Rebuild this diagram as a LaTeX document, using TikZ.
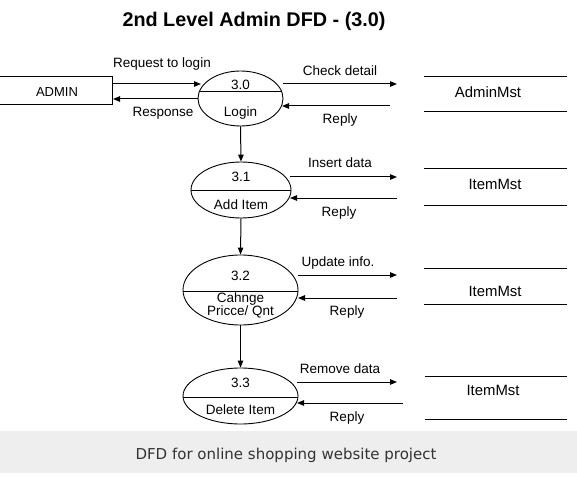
\documentclass[tikz,border=0pt]{standalone}
\usepackage{fontspec}
\setmainfont{Liberation Sans}
\newfontfamily\capfont{DejaVu Sans}
\usetikzlibrary{arrows.meta,shapes.geometric}
\tikzset{
  lbl/.style={inner sep=0pt, font=\fontsize{13.5}{14}\selectfont, text=black},
  storelbl/.style={inner sep=0pt, font=\fontsize{14.9}{16}\selectfont, text=black},
  flow/.style={line width=1pt, -{Triangle[length=7pt,width=5.5pt]}},
  plain/.style={line width=1pt},
  proc/.style={ellipse, draw, line width=0.9pt, inner sep=0pt},
}
\begin{document}
\begin{tikzpicture}[x=1pt,y=-1pt]
\useasboundingbox (0,0) rectangle (577,478);
% caption band
\fill[color={rgb,255:red,238;green,238;blue,238}] (0,431) rectangle (577,473);
\node[inner sep=0pt, text={rgb,255:red,51;green,51;blue,51}, font=\capfont\fontsize{15}{16}\selectfont] (cap) at (286,455) {DFD for online shopping website project};
% title
\node[inner sep=0pt, font=\bfseries\fontsize{19.8}{21}\selectfont] (title) at (254,21) {2nd Level Admin DFD - (3.0)};

% external entity
\node[draw, plain, minimum width=114pt, minimum height=28pt, inner sep=0pt] (admin) at (55,91) {};
\node[lbl, font=\fontsize{13}{14}\selectfont] (admint) at (57,92) {ADMIN};

% processes
\node[proc, minimum width=85pt, minimum height=55pt,
  path picture={\draw[plain] ([yshift=6.5pt]path picture bounding box.west) -- ([yshift=6.5pt]path picture bounding box.east);}] (p0) at (240.5,98.5) {};
\node[lbl] (p0n) at (240.5,84.5) {3.0};
\node[lbl] (p0t) at (240.5,113) {Login};

\node[proc, minimum width=100pt, minimum height=56pt,
  path picture={\draw[plain] ([yshift=-1pt]path picture bounding box.west) -- ([yshift=-1pt]path picture bounding box.east);}] (p1) at (241,190) {};
\node[lbl] (p1n) at (241,177) {3.1};
\node[lbl] (p1t) at (241,205) {Add Item};

\node[proc, minimum width=115pt, minimum height=70pt,
  path picture={\draw[plain] ([yshift=-1pt]path picture bounding box.west) -- ([yshift=-1pt]path picture bounding box.east);}] (p2) at (240.5,290) {};
\node[lbl] (p2n) at (240.5,276) {3.2};
\node[lbl, align=center, font=\fontsize{13.5}{13}\selectfont] (p2t) at (240.5,305) {Cahnge\\Pricce/ Qnt};

\node[proc, minimum width=115pt, minimum height=56pt,
  path picture={\draw[plain] ([yshift=-1pt]path picture bounding box.west) -- ([yshift=-1pt]path picture bounding box.east);}] (p3) at (240.5,396) {};
\node[lbl] (p3n) at (240.5,383) {3.3};
\node[lbl] (p3t) at (240.5,410) {Delete Item};

% data stores
\coordinate (s0a) at (424,77);  \coordinate (s0b) at (567,77);
\coordinate (s0c) at (424,112); \coordinate (s0d) at (567,112);
\draw[plain] (s0a) -- (s0b); \draw[plain] (s0c) -- (s0d);
\node[storelbl] (s0) at (488,92) {AdminMst};

\coordinate (s1a) at (424,169); \coordinate (s1b) at (567,169);
\coordinate (s1c) at (424,205); \coordinate (s1d) at (567,205);
\draw[plain] (s1a) -- (s1b); \draw[plain] (s1c) -- (s1d);
\node[storelbl] (s1) at (495,184) {ItemMst};

\coordinate (s2a) at (424,268); \coordinate (s2b) at (567,268);
\coordinate (s2c) at (424,304); \coordinate (s2d) at (567,304);
\draw[plain] (s2a) -- (s2b); \draw[plain] (s2c) -- (s2d);
\node[storelbl] (s2) at (495,291) {ItemMst};

\coordinate (s3a) at (425,376); \coordinate (s3b) at (567,376);
\coordinate (s3c) at (425,419); \coordinate (s3d) at (567,419);
\draw[plain] (s3a) -- (s3b); \draw[plain] (s3c) -- (s3d);
\node[storelbl] (s3) at (493,390) {ItemMst};

% admin <-> 3.0
\coordinate (a1) at (113,84);  \coordinate (a2) at (201,84);
\coordinate (a3) at (198,99);  \coordinate (a4) at (113,99);
\draw[flow] (a1) -- (a2);
\draw[flow] (a3) -- (a4);
\node[lbl] (lreq) at (162,64) {Request to login};
\node[lbl] (lres) at (163,113) {Response};

% 3.0 <-> AdminMst
\coordinate (b1) at (283,84);  \coordinate (b2) at (397,84);
\coordinate (b3) at (390,106); \coordinate (b4) at (282,106);
\draw[flow] (b1) -- (b2);
\draw[flow] (b3) -- (b4);
\node[lbl] (lchk) at (340,71) {Check detail};
\node[lbl] (lrep0) at (340,120) {Reply};

% 3.1 <-> ItemMst
\coordinate (c1) at (290,177); \coordinate (c2) at (397,177);
\coordinate (c3) at (397,198); \coordinate (c4) at (290,198);
\draw[flow] (c1) -- (c2);
\draw[flow] (c3) -- (c4);
\node[lbl] (lins) at (340,163) {Insert data};
\node[lbl] (lrep1) at (339,213) {Reply};

% 3.2 <-> ItemMst
\coordinate (d1) at (298,275); \coordinate (d2) at (397,275);
\coordinate (d3) at (397,298); \coordinate (d4) at (298,298);
\draw[flow] (d1) -- (d2);
\draw[flow] (d3) -- (d4);
\node[lbl] (lupd) at (338,263) {Update info.};
\node[lbl] (lrep2) at (347,312) {Reply};

% 3.3 <-> ItemMst
\coordinate (e1) at (297,382); \coordinate (e2) at (397,382);
\coordinate (e3) at (403,403); \coordinate (e4) at (297,403);
\draw[flow] (e1) -- (e2);
\draw[flow] (e3) -- (e4);
\node[lbl] (lrem) at (340,369) {Remove data};
\node[lbl] (lrep3) at (347,418) {Reply};

% vertical flows
\draw[flow] (p0.south) -- (p1.north);
\draw[flow] (p1.south) -- (p2.north);
\draw[flow] (p2.south) -- (p3.north);
\end{tikzpicture}
\end{document}
